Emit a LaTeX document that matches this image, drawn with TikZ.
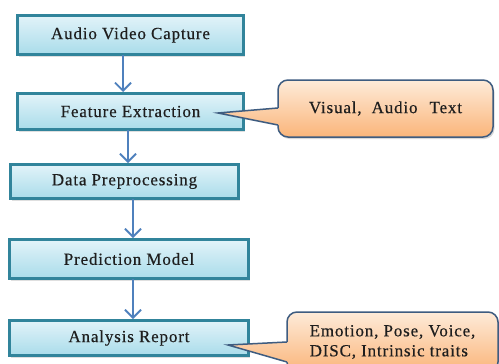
\documentclass[tikz,border=0pt]{standalone}
\usepackage{fontspec}
\setmainfont{Liberation Serif}[LetterSpace=5.0, FakeBold=0.4]
\usetikzlibrary{arrows.meta,shadows,calc}
\definecolor{boxline}{HTML}{31849B}
\definecolor{boxtop}{HTML}{E2F3F9}
\definecolor{boxbot}{HTML}{A9DCEA}
\definecolor{arrowc}{HTML}{4F81BD}
\definecolor{calline}{HTML}{3E5C80}
\definecolor{caltop}{HTML}{FEEBD9}
\definecolor{calbot}{HTML}{FAB57A}
\definecolor{textc}{HTML}{1E1E1E}
\begin{document}
\begin{tikzpicture}[x=1pt,y=-1pt,
  font=\fontsize{17}{20}\selectfont,
  box/.style={draw=boxline, line width=3pt, top color=boxtop, bottom color=boxbot,
    text=textc, inner sep=0pt, outer sep=0pt,
    drop shadow={opacity=0.25, shadow xshift=1.5pt, shadow yshift=-2pt}},
  flow/.style={draw=arrowc, line width=1.8pt, -{Straight Barb[length=8pt,width=16pt]}, shorten >=1.5pt},
  callout/.style={draw=calline, line width=1.5pt, rounded corners=10pt,
    top color=caltop, bottom color=calbot, inner sep=0pt, outer sep=0pt,
    text=textc, align=left,
    drop shadow={opacity=0.3, shadow xshift=1.5pt, shadow yshift=-2pt}},
  pointer/.style={draw=calline, line width=1.5pt, line join=miter}]
\useasboundingbox (0,0) rectangle (499,364);
\fill[white] (0,0) rectangle (499,364);

\node[box, minimum width=226pt, minimum height=39pt] (b1) at (130.5,35) {Audio Video Capture};
\node[box, minimum width=226pt, minimum height=36pt] (b2) at (130.5,111.5) {Feature Extraction};
\node[box, minimum width=228pt, minimum height=34pt] (b3) at (124.5,181.5) {Data Preprocessing};
\node[box, minimum width=239pt, minimum height=39pt] (b4) at (129,259) {Prediction Model};
\node[box, minimum width=239pt, minimum height=35pt] (b5) at (129,338) {Analysis Report};

\coordinate (x1) at (123,0);
\coordinate (x2) at (128,0);
\coordinate (x3) at (133,0);
\draw[flow] (b1.south -| x1) -- (b2.north -| x1);
\draw[flow] (b2.south -| x2) -- (b3.north -| x2);
\draw[flow] (b3.south -| x3) -- (b4.north -| x3);
\draw[flow] (b4.south -| x3) -- (b5.north -| x3);

\node[callout, minimum width=215pt, minimum height=57pt] (c1) at (385.5,108.5)
  {Visual,\hspace{10pt}Audio\hspace{12pt}Text};
\node[callout, minimum width=211pt, minimum height=60pt] (c2) at (392.5,342)
  {Emotion, Pose, Voice,\\DISC, Intrinsic traits};

\coordinate (t1) at (218,113);
\coordinate (t2) at (228,345);
\coordinate (y1b) at (0,108);
\coordinate (y1c) at (0,125);
\coordinate (y2b) at (0,342);
\coordinate (y2c) at (0,362);

% pointer of the first callout
\shade[top color=calbot!49!caltop, bottom color=calbot!79!caltop]
  ($(c1.west |- y1b)+(2.5,0)$) -- (c1.west |- y1b) -- (t1) -- (c1.west |- y1c) -- ($(c1.west |- y1c)+(2.5,0)$) -- cycle;
\draw[pointer] (c1.west |- y1b) -- (t1) -- (c1.west |- y1c);
% pointer of the second callout
\shade[top color=calbot!50!caltop, bottom color=calbot!83!caltop]
  ($(c2.west |- y2b)+(2.5,0)$) -- (c2.west |- y2b) -- (t2) -- (c2.west |- y2c) -- ($(c2.west |- y2c)+(2.5,0)$) -- cycle;
\draw[pointer] (c2.west |- y2b) -- (t2) -- (c2.west |- y2c);
\end{tikzpicture}
\end{document}
